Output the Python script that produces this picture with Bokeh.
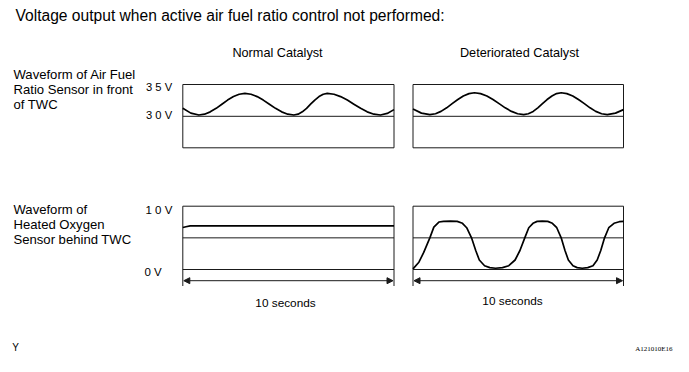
from bokeh.plotting import figure
from bokeh.models import Range1d, Arrow, NormalHead
from bokeh.core.properties import value
from bokeh.embed import file_html
from bokeh.resources import INLINE

# ---------------- data ----------------
# Air fuel ratio sensor, normal catalyst: time [s], voltage [V]
afr_normal_t = [0, 0.38, 0.76, 1.03, 1.30, 1.58, 1.85, 2.12, 2.40, 2.67, 2.94,
                3.23, 3.52, 3.81, 4.10, 4.39, 4.68, 4.97, 5.26,
                5.46, 5.66, 5.86, 6.05, 6.25, 6.45, 6.65, 6.84,
                7.16, 7.47, 7.79, 8.10, 8.42, 8.73, 9.05, 9.36, 9.68, 10.0]
afr_normal_v = [3.126, 3.05, 3.02, 3.033, 3.07, 3.125, 3.19, 3.255, 3.31, 3.347, 3.36,
                3.347, 3.31, 3.255, 3.19, 3.125, 3.07, 3.033, 3.02,
                3.033, 3.07, 3.125, 3.19, 3.255, 3.31, 3.347, 3.36,
                3.347, 3.31, 3.255, 3.19, 3.125, 3.07, 3.033, 3.02, 3.045, 3.105]

# Air fuel ratio sensor, deteriorated catalyst
afr_det_t = [0, 0.40, 0.80, 1.07, 1.33, 1.60, 1.86, 2.13, 2.39, 2.66, 2.92,
             3.21, 3.51, 3.80, 4.09, 4.38, 4.68, 4.97, 5.26,
             5.48, 5.71, 5.93, 6.15, 6.37, 6.60, 6.82, 7.04,
             7.31, 7.59, 7.86, 8.14, 8.41, 8.68, 8.96, 9.23, 9.62, 10.0]
afr_det_v = [3.115, 3.05, 3.027, 3.040, 3.077, 3.133, 3.199, 3.264, 3.320, 3.357, 3.37,
             3.357, 3.320, 3.264, 3.199, 3.133, 3.077, 3.040, 3.027,
             3.040, 3.077, 3.133, 3.199, 3.264, 3.320, 3.357, 3.37,
             3.357, 3.320, 3.264, 3.199, 3.133, 3.077, 3.040, 3.027, 3.05, 3.105]

# Heated oxygen sensor, normal catalyst
o2_normal_t = [0, 0.15, 0.35, 1, 3, 5, 7, 9, 10]
o2_normal_v = [0.663, 0.675, 0.69, 0.69, 0.69, 0.69, 0.69, 0.69, 0.69]

# Heated oxygen sensor, deteriorated catalyst
o2_det_t = [0, 0.28, 0.51, 0.80, 0.99, 1.23, 1.45, 1.78, 2.10, 2.35, 2.55, 2.78,
            2.98, 3.15, 3.40, 3.65, 3.92, 4.25, 4.55, 4.85, 5.08, 5.31,
            5.50, 5.70, 5.90, 6.14, 6.40, 6.62, 6.83, 7.04,
            7.22, 7.38, 7.60, 7.80, 8.04, 8.30, 8.55, 8.75, 8.92, 9.10,
            9.30, 9.55, 9.80, 10.0]
o2_det_v = [0.01, 0.115, 0.27, 0.50, 0.67, 0.75, 0.76, 0.765, 0.76, 0.73, 0.66, 0.50,
            0.30, 0.15, 0.06, 0.03, 0.02, 0.03, 0.06, 0.15, 0.30, 0.50,
            0.66, 0.73, 0.76, 0.765, 0.76, 0.73, 0.66, 0.50,
            0.30, 0.15, 0.06, 0.03, 0.02, 0.03, 0.06, 0.15, 0.30, 0.50,
            0.66, 0.73, 0.755, 0.76]

afr_ref_v = [3.0, 3.5]          # labelled levels, upper graphs
o2_ref_v = [0.0, 0.5, 1.0]      # levels, lower graphs
afr_labels = ["3 5 V", "3 0 V"]
o2_labels = ["1 0 V", "0 V"]
panel_titles = ["Normal Catalyst", "Deteriorated Catalyst"]
span_label = "10 seconds"
time_span = [0, 10]

# ---------------- layout (reference pixel geometry) ----------------
PX0, PX1, PY0, PY1 = 0, 673, 0, 356
FONT = value("Liberation Sans")

def map_range(d_a, p_a, d_b, p_b, p_lo, p_hi):
    k = (d_b - d_a) / (p_b - p_a)
    return Range1d(start=d_a + (p_lo - p_a) * k, end=d_a + (p_hi - p_a) * k)

panels = {"normal": (182.3, 393.5), "det": (412.5, 623.0)}
TOP_T, TOP_B = 84.0, 147.3        # upper frame (3.5 V at top)
Y30 = 115.8                        # 3.0 V
BOT_T, Y0V = 205.7, 269.0          # 1.0 V / 0 V
BOT_END, ARROW_Y = 285.5, 280.2

p = figure(width=PX1 - PX0, height=PY1 - PY0,
           x_range=Range1d(PX0, PX1), y_range=Range1d(PY1, PY0),
           output_backend="svg", toolbar_location=None, min_border=0,
           x_axis_location=None, y_axis_location=None)
p.grid.visible = False
p.outline_line_color = None
p.background_fill_color = "white"

p.extra_x_ranges = {name: map_range(time_span[0], xl, time_span[1], xr, PX0, PX1)
                    for name, (xl, xr) in panels.items()}
p.extra_y_ranges = {"afr": map_range(afr_ref_v[0], Y30, afr_ref_v[1], TOP_T, PY1, PY0),
                    "o2": map_range(o2_ref_v[0], Y0V, o2_ref_v[2], BOT_T, PY1, PY0)}

FRAME = "#1a1a1a"
for name, (xl, xr) in panels.items():
    # upper frame
    p.quad(left=xl, right=xr, top=TOP_T, bottom=TOP_B, fill_color=None,
           line_color=FRAME, line_width=1)
    p.line(time_span, [afr_ref_v[0]] * 2, x_range_name=name, y_range_name="afr",
           line_color=FRAME, line_width=1)
    # lower frame
    p.segment(x0=[xl, xl, xr], y0=[BOT_T, BOT_T, BOT_T], x1=[xr, xl, xr],
              y1=[BOT_T, BOT_END, BOT_END], line_color=FRAME, line_width=1)
    for lv in o2_ref_v[:2]:
        p.line(time_span, [lv] * 2, x_range_name=name, y_range_name="o2",
               line_color=FRAME, line_width=1)
    p.add_layout(Arrow(start=NormalHead(size=6, fill_color=FRAME, line_color=FRAME),
                       end=NormalHead(size=6, fill_color=FRAME, line_color=FRAME),
                       x_start=xl + 1, x_end=xr - 1, y_start=ARROW_Y, y_end=ARROW_Y,
                       line_color=FRAME, line_width=1))

WAVE = dict(line_color="black", line_width=1.7, line_join="round")
p.line(afr_normal_t, afr_normal_v, x_range_name="normal", y_range_name="afr", **WAVE)
p.line(afr_det_t, afr_det_v, x_range_name="det", y_range_name="afr", **WAVE)
p.line(o2_normal_t, o2_normal_v, x_range_name="normal", y_range_name="o2", **WAVE)
p.line(o2_det_t, o2_det_v, x_range_name="det", y_range_name="o2", **WAVE)

TXT = dict(text_font=FONT, text_color="black", text_baseline="middle")
p.text(x=[15], y=[15], text=["Voltage output when active air fuel ratio control not performed:"],
       text_font_size="15.6px", text_align="left", **TXT)
p.text(x=[277, 519], y=[52, 52], text=panel_titles, text_font_size="12.7px",
       text_align="center", **TXT)
p.text(x=[13, 13, 13], y=[74, 89, 103.5],
       text=["Waveform of Air Fuel", "Ratio Sensor in front", "of TWC"],
       text_font_size="13.1px", text_align="left", **TXT)
p.text(x=[13, 13, 13], y=[209, 224, 239],
       text=["Waveform of", "Heated Oxygen", "Sensor behind TWC"],
       text_font_size="13.1px", text_align="left", **TXT)
p.text(x=[145.5, 145.5], y=[86, 114], text=afr_labels, text_font_size="11.2px",
       text_align="left", **TXT)
p.text(x=[145, 144], y=[209, 271], text=o2_labels, text_font_size="11.5px",
       text_align="left", **TXT)
p.text(x=[285, 512], y=[302, 300.5], text=[span_label, span_label],
       text_font_size="11.8px", text_align="center", **TXT)
p.text(x=[15], y=[347], text=["Y"], text_font_size="10px", text_align="center", **TXT)
p.text(x=[672], y=[348], text=["A121010E16"], text_font=value("Liberation Sans Narrow"),
       text_font_size="7px", text_align="right", text_color="black", text_baseline="middle")

open("out.html", "w").write(file_html(p, INLINE))
